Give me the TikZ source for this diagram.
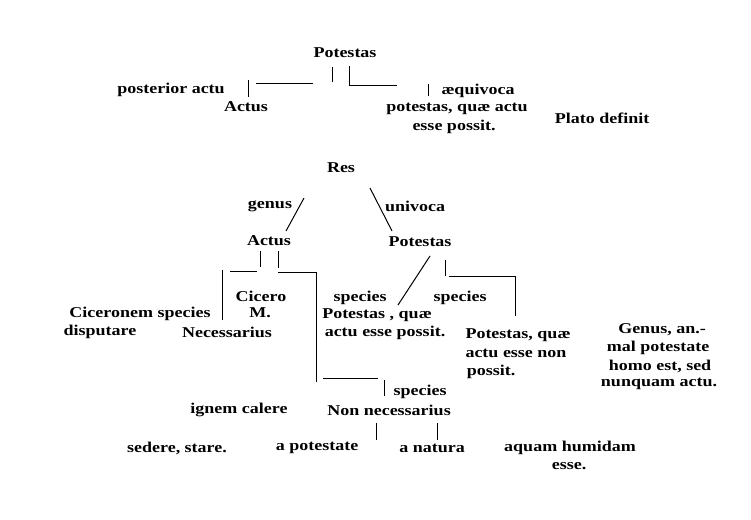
\documentclass[tikz,border=0pt]{standalone}
\usepackage{fontspec}
\setmainfont[FakeStretch=1.2]{Liberation Serif}
\begin{document}
\begin{tikzpicture}[x=1pt,y=-1pt,
  t/.style={inner sep=0pt,font=\fontsize{15}{16}\selectfont\bfseries},
  ln/.style={line width=1pt}]
\useasboundingbox (0,0) rectangle (751,519);
\node[t] (p0) at (345,53) {Potestas};
\node[t] (pa) at (171,90) {posterior actu};
\node[t] (a0) at (246,107) {Actus};
\node[t] (aeq) at (478,91) {æquivoca};
\node[t] (pq) at (457,109) {potestas, quæ actu};
\node[t] (ep) at (454,127) {esse possit.};
\node[t] (pd) at (602,118) {Plato definit};
\draw[ln] (332,67)--(332,82) (313,83)--(256,83) (248,80)--(248,97);
\draw[ln] (349,66)--(349,85)--(397,85) (428,84)--(428,96);
\node[t] (res) at (341,168) {Res};
\node[t] (gen) at (270,206) {genus};
\node[t] (uni) at (415,206) {univoca};
\node[t] (act) at (269,241) {Actus};
\node[t] (pot) at (420,242) {Potestas};
\draw[ln] (304,198)--(286,231);
\draw[ln] (370,188)--(392,231);
\draw[ln] (260,251)--(260,267) (278,251)--(278,268);
\draw[ln] (222,270)--(222,320) (230,271)--(257,271) (278,272)--(316,272)--(316,382);
\draw[ln] (323,378)--(378,378) (384,380)--(384,396);
\node[t] (cic) at (261,296) {Cicero};
\node[t] (m) at (260,313) {M.};
\node[t] (nec) at (227,332) {Necessarius};
\node[t] (cs) at (140,314) {Ciceronem species};
\node[t] (dis) at (100,332) {disputare};
\node[t] (sp1) at (360,298) {species};
\node[t] (sp2) at (460,298) {species};
\node[t] (pq1) at (377,315) {Potestas , quæ};
\node[t] (ae1) at (385,333) {actu esse possit.};
\draw[ln] (430,256)--(398,305);
\draw[ln] (445,260)--(445,276) (449,276)--(515,276)--(515,316);
\node[t] (pq2) at (518,335) {Potestas, quæ};
\node[t] (ae2) at (516,353) {actu esse non};
\node[t] (ps2) at (491,372) {possit.};
\node[t] (g1) at (662,330) {Genus, an.-};
\node[t] (g2) at (658,348) {mal potestate};
\node[t] (g3) at (660,366) {homo est, sed};
\node[t] (g4) at (659,384) {nunquam actu.};
\node[t] (sp3) at (420,392) {species};
\node[t] (ign) at (239,410) {ignem calere};
\node[t] (nn) at (389,410) {Non necessarius};
\draw[ln] (376,423)--(376,440) (437,423)--(437,440);
\node[t] (sed) at (177,448) {sedere, stare.};
\node[t] (apo) at (317,448) {a potestate};
\node[t] (ana) at (432,448) {a natura};
\node[t] (aq) at (570,448) {aquam humidam};
\node[t] (es) at (569,466) {esse.};
\end{tikzpicture}
\end{document}
